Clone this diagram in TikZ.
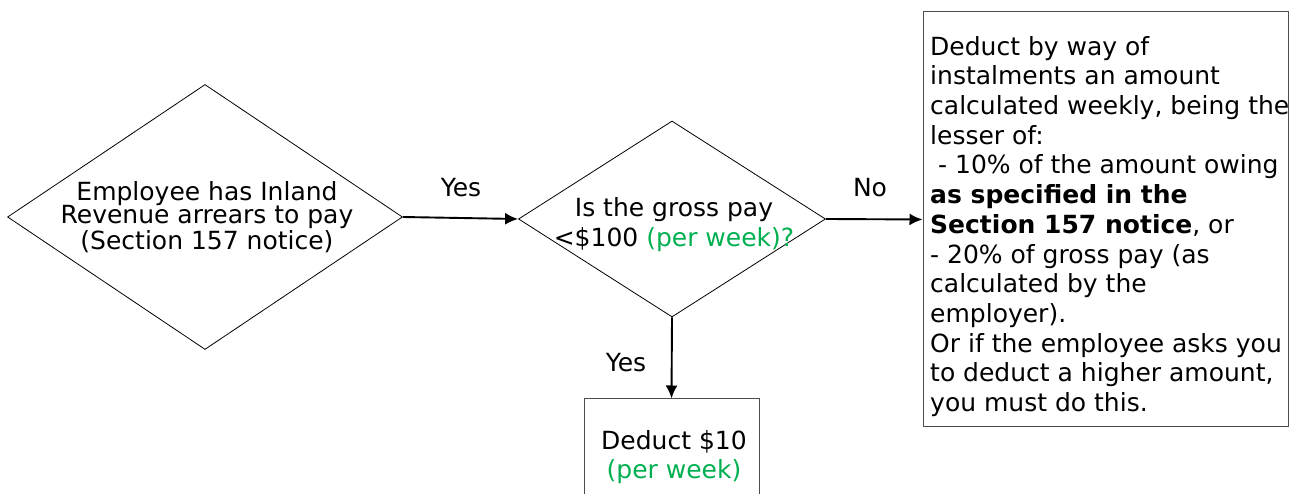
\documentclass[tikz,border=0pt]{standalone}
\usepackage{fontspec}
\setmainfont{DejaVu Sans}
\usetikzlibrary{shapes.geometric,arrows.meta}
\definecolor{weekgreen}{HTML}{00B050}
\tikzset{
	decision/.style={diamond,draw,line width=0.8pt,inner sep=0},
	actionbox/.style={rectangle,draw=black!70,line width=1pt,inner sep=0},
	flowtext/.style={font=\fontsize{25}{23.5}\selectfont,align=center,inner sep=0},
	boxtext/.style={font=\fontsize{25}{29.7}\selectfont,align=left,inner sep=0},
	arrowlabel/.style={font=\fontsize{25}{26}\selectfont,inner sep=0,anchor=base},
	flow/.style={line width=1.9pt,-{Latex[length=13pt,width=12pt]}}
}
\begin{document}
\begin{tikzpicture}[x=1pt,y=1pt]
	\useasboundingbox (0,0) rectangle (1303,494);
	% decisions
	\node[decision,minimum width=395pt,minimum height=265pt] (arrears) at (205,277) {};
	\node[flowtext] (arrearstext) at (207,277) {Employee has Inland\\Revenue arrears to pay\\(Section 157 notice)};
	\node[decision,minimum width=307pt,minimum height=196pt] (gross) at (672,275) {};
	\node[flowtext,font=\fontsize{25}{30}\selectfont] (grosstext) at (674,269) {Is the gross pay\\<\$100 \textcolor{weekgreen}{(per week)?}};
	% outcomes
	\node[actionbox,minimum width=365pt,minimum height=415pt] (instal) at (1105.5,274.5) {};
	\node[boxtext,anchor=north west] (instaltext) at (930,458) {Deduct by way of\\
		instalments an amount\\
		calculated weekly, being the\\
		lesser of:\\
		\ - 10\% of the amount owing\\
		\textbf{as specified in the}\\
		\textbf{Section 157 notice}, or\\
		- 20\% of gross pay (as\\
		calculated by the\\
		employer).\\
		Or if the employee asks you\\
		to deduct a higher amount,\\
		you must do this.};
	\node[actionbox,minimum width=175pt,minimum height=150pt] (tendollar) at (671.5,20) {};
	\node[flowtext,font=\fontsize{25}{29}\selectfont] (tendollartext) at (674,37) {Deduct \$10\\\textcolor{weekgreen}{(per week)}};
	% connectors
	\draw[flow] (arrears.east) -- (gross.west);
	\draw[flow] (gross.east) -- (instal.west);
	\draw[flow] (gross.south) -- (tendollar.north);
	\node[arrowlabel] (yesright) at (461,297) {Yes};
	\node[arrowlabel] (noright) at (870,297) {No};
	\node[arrowlabel] (yesdown) at (626,122) {Yes};
\end{tikzpicture}
\end{document}
